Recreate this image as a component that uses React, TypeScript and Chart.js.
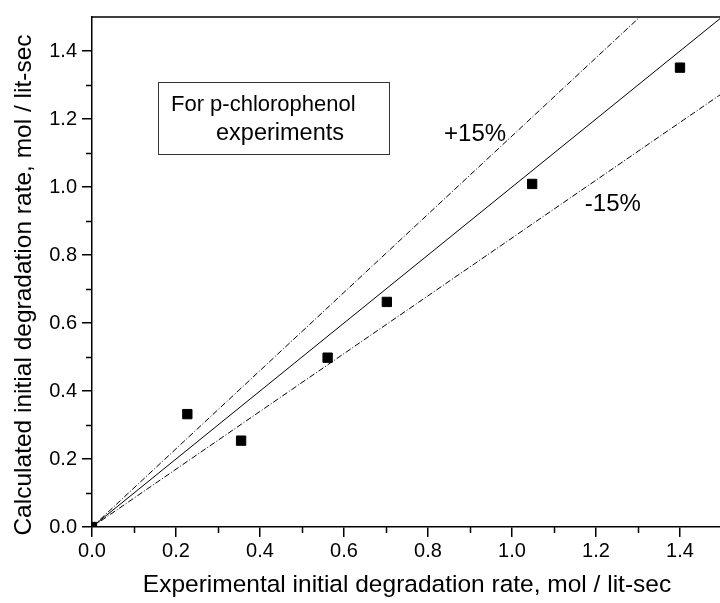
import React, { useEffect, useRef } from "react";
import { Chart, registerables } from "chart.js";

Chart.register(...registerables);

// ---- data ----
const expRates = [0.0, 0.227, 0.355, 0.561, 0.702, 1.048, 1.4];
const calcRates = [0.0, 0.332, 0.254, 0.498, 0.662, 1.009, 1.351];

const lineX = [0, 1.5];
const parityY = [0, 1.5];
const plus15Y = [0, 1.725];
const minus15Y = [0, 1.275];

const majorTicks = [0, 0.2, 0.4, 0.6, 0.8, 1.0, 1.2, 1.4];
const minorTicks = [0.1, 0.3, 0.5, 0.7, 0.9, 1.1, 1.3];

const xTitle = "Experimental initial degradation rate, mol / lit-sec";
const yTitle = "Calculated initial degradation rate, mol / lit-sec";
const boxLines = ["For p-chlorophenol", "experiments"];
const plusLabel = "+15%";
const minusLabel = "-15%";

const FONT = "'Liberation Sans', Arial, Helvetica, sans-serif";

const toPts = (xs: number[], ys: number[]) => xs.map((x, i) => ({ x, y: ys[i] }));

const decorations = {
  id: "decorations",
  afterDraw(chart: any) {
    const { ctx, chartArea, scales } = chart;
    const xs = scales.x;
    const ys = scales.y;
    ctx.save();
    ctx.strokeStyle = "#000";
    ctx.lineWidth = 1.5;
    // top frame line
    ctx.beginPath();
    ctx.moveTo(chartArea.left, chartArea.top);
    ctx.lineTo(chartArea.right + 2, chartArea.top);
    ctx.stroke();
    // minor ticks
    ctx.beginPath();
    minorTicks.forEach((v) => {
      const px = Math.round(xs.getPixelForValue(v)) + 0.5;
      ctx.moveTo(px, chartArea.bottom);
      ctx.lineTo(px, chartArea.bottom + 6);
      const py = Math.round(ys.getPixelForValue(v)) + 0.5;
      ctx.moveTo(chartArea.left - 6, py);
      ctx.lineTo(chartArea.left, py);
    });
    ctx.stroke();

    // y axis title
    ctx.fillStyle = "#000";
    ctx.save();
    ctx.translate(chartArea.left - 68, (chartArea.top + chartArea.bottom) / 2 + 13);
    ctx.rotate(-Math.PI / 2);
    ctx.font = `24.5px ${FONT}`;
    ctx.textAlign = "center";
    ctx.textBaseline = "middle";
    ctx.fillText(yTitle, 0, 0);
    ctx.restore();

    // legend box
    ctx.lineWidth = 1;
    ctx.fillStyle = "#fff";
    ctx.fillRect(158, 82, 231, 72);
    ctx.strokeStyle = "#333";
    ctx.strokeRect(158.5, 82.5, 231, 72);
    ctx.fillStyle = "#000";
    ctx.textBaseline = "middle";
    ctx.textAlign = "left";
    ctx.font = `22px ${FONT}`;
    ctx.fillText(boxLines[0], 171, 105);
    ctx.font = `23.5px ${FONT}`;
    ctx.fillText(boxLines[1], 216, 134);

    // band labels
    ctx.font = `24px ${FONT}`;
    ctx.textAlign = "center";
    ctx.fillText(plusLabel, xs.getPixelForValue(0.912), ys.getPixelForValue(1.155));
    ctx.fillText(minusLabel, xs.getPixelForValue(1.24), ys.getPixelForValue(0.948));
    ctx.restore();
  },
};

export default function App() {
  const ref = useRef<HTMLCanvasElement | null>(null);

  useEffect(() => {
    if (!ref.current) return;
    const tickFont = { family: FONT, size: 20 };
    const chart = new Chart(ref.current, {
      type: "scatter",
      data: {
        datasets: [
          {
            type: "line",
            data: toPts(lineX, plus15Y),
            borderColor: "#000",
            borderWidth: 1,
            borderDash: [6, 2, 1, 2],
            pointRadius: 0,
            fill: false,
          } as any,
          {
            type: "line",
            data: toPts(lineX, parityY),
            borderColor: "#000",
            borderWidth: 1,
            pointRadius: 0,
            fill: false,
          } as any,
          {
            type: "line",
            data: toPts(lineX, minus15Y),
            borderColor: "#000",
            borderWidth: 1,
            borderDash: [6, 2, 1, 2],
            pointRadius: 0,
            fill: false,
          } as any,
          {
            type: "scatter",
            data: toPts(expRates, calcRates),
            pointStyle: "rect",
            pointRadius: 6.6,
            pointBackgroundColor: "#000",
            pointBorderColor: "#000",
            pointBorderWidth: 1,
          } as any,
        ],
      },
      options: {
        animation: false,
        responsive: false,
        devicePixelRatio: 1,
        layout: { padding: { top: 14, right: 8, left: 0, bottom: 0 } },
        plugins: { legend: { display: false }, tooltip: { enabled: false } },
        scales: {
          x: {
            type: "linear",
            min: 0,
            max: 1.5,
            afterBuildTicks: (s: any) => {
              s.ticks = majorTicks.map((v) => ({ value: v }));
            },
            afterFit: (s: any) => {
              s.height = 76;
            },
            ticks: {
              color: "#000",
              font: tickFont,
              padding: 2,
              maxRotation: 0,
              callback: (v: any) => Number(v).toFixed(1),
            },
            grid: {
              drawOnChartArea: false,
              color: "#000",
              lineWidth: 1.5,
              tickLength: 10,
            },
            border: { display: true, color: "#000", width: 1.5 },
            title: {
              display: true,
              text: xTitle,
              color: "#000",
              font: { family: FONT, size: 24.5 },
              padding: { top: 0, bottom: 3 },
            },
          },
          y: {
            type: "linear",
            min: 0,
            max: 1.5,
            afterBuildTicks: (s: any) => {
              s.ticks = majorTicks.map((v) => ({ value: v }));
            },
            afterFit: (s: any) => {
              s.width = 92;
            },
            ticks: {
              color: "#000",
              font: tickFont,
              padding: 5,
              callback: (v: any) => Number(v).toFixed(1),
            },
            grid: {
              drawOnChartArea: false,
              color: "#000",
              lineWidth: 1.5,
              tickLength: 10,
            },
            border: { display: true, color: "#000", width: 1.5 },
            title: { display: false },
          },
        },
      },
      plugins: [decorations],
    } as any);
    return () => chart.destroy();
  }, []);

  return (
    <div
      style={{
        position: "fixed",
        left: 0,
        top: 0,
        width: 720,
        height: 603,
        overflow: "hidden",
        background: "#fff",
      }}
    >
      <canvas ref={ref} width={730} height={603} style={{ display: "block" }} />
    </div>
  );
}
